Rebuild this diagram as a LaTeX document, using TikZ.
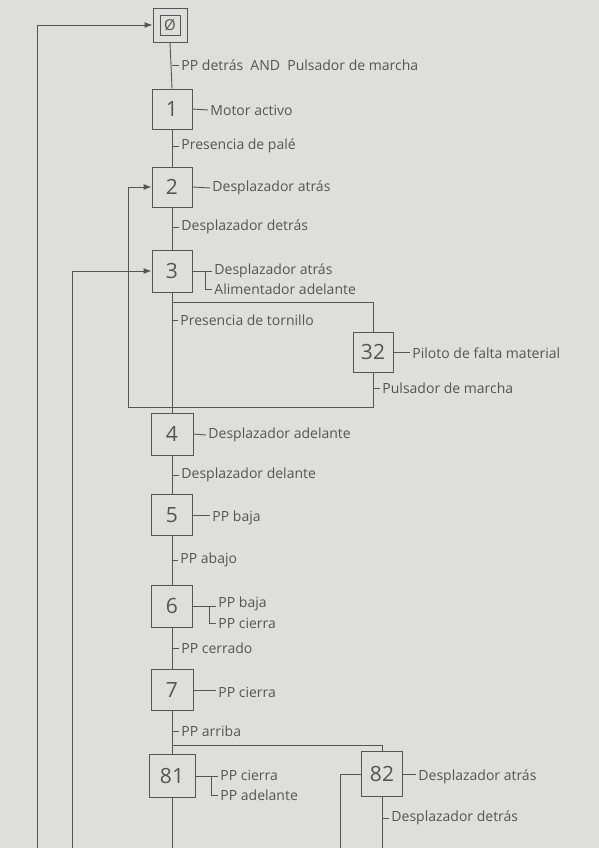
\documentclass[tikz,border=0pt]{standalone}
\usepackage{fontspec}
\setmainfont{Open Sans}
\usetikzlibrary{arrows.meta}
\definecolor{papel}{RGB}{222,222,220}
\definecolor{lapiz}{RGB}{85,85,85}
\tikzset{
  etapa/.style={draw=lapiz,minimum width=40,minimum height=40,inner sep=0pt,
    text=lapiz,font=\fontsize{21}{21}\selectfont},
  accion/.style={right,inner sep=2pt,text=lapiz,font=\fontsize{14}{14}\selectfont},
  receptiva/.style={right,inner sep=2pt,text=lapiz,font=\fontsize{14}{14}\selectfont},
  flecha/.style={-{Latex[length=8,width=6]}},
}

\begin{document}
\begin{tikzpicture}[x=1pt,y=-1pt,line width=0.9pt,draw=lapiz]
    % Paper
    \fill[papel] (0,0) rectangle (599,848);
    \useasboundingbox (0,0) rectangle (599,848);
    % Steps
    \node[etapa,minimum width=34,minimum height=34] (s0) at (170,25) {};
    \node[etapa,minimum width=20,minimum height=20,font=\fontsize{15}{15}\selectfont] (s0i) at (s0) {Ø};
    \node[etapa] (s1) at (172,109) {1};
    \node[etapa] (s2) at (172,187) {2};
    \node[etapa,minimum height=42] (s3) at (172,271) {3};
    \node[etapa] (s32) at (373,352) {32};
    \node[etapa,minimum width=42,minimum height=42] (s4) at (172,434) {4};
    \node[etapa,minimum width=41,minimum height=41] (s5) at (172,515) {5};
    \node[etapa,minimum width=41,minimum height=42] (s6) at (172,606) {6};
    \node[etapa,minimum width=42,minimum height=41] (s7) at (172,690) {7};
    \node[etapa,minimum width=46,minimum height=43] (s81) at (172,776) {81};
    \node[etapa,minimum width=41,minimum height=45] (s82) at (382,774) {82};
    % Actions
    \node[accion] (a1) at (208,110) {Motor activo};
    \node[accion] (a2) at (210,188) {Desplazador atrás};
    \node[accion] (a3a) at (212,271) {Desplazador atrás};
    \node[accion] (a3b) at (212,289) {Alimentador adelante};
    \node[accion] (a32) at (410,353) {Piloto de falta material};
    \node[accion] (a4) at (206,435) {Desplazador adelante};
    \node[accion] (a5) at (210,518) {PP baja};
    \node[accion] (a6a) at (216,604) {PP baja};
    \node[accion] (a6b) at (216,623) {PP cierra};
    \node[accion] (a7) at (216,692) {PP cierra};
    \node[accion] (a81a) at (218,775) {PP cierra};
    \node[accion] (a81b) at (218,795) {PP adelante};
    \node[accion] (a82) at (416,777) {Desplazador atrás};
    \draw (s1.east) -- (a1.west);
    \draw (s2.east) -- (a2.west);
    \draw (s3.east) -- (a3a.west);
    \coordinate (b3) at (205,271);
    \draw (b3) |- (a3b.west);
    \draw (s32.east) -- (s32.east -| a32.west);
    \draw (s4.east) -- (a4.west);
    \draw (s5.east) -- (s5.east -| a5.west);
    \draw (s6.east) -- (s6.east -| a6a.west);
    \coordinate (b6) at (209,606);
    \draw (b6) |- (a6b.west);
    \draw (s7.east) -- (s7.east -| a7.west);
    \draw (s81.east) -- (s81.east -| a81a.west);
    \coordinate (b81) at (211,776);
    \draw (b81) |- (a81b.west);
    \draw (s82.east) -- (s82.east -| a82.west);
    % Links
    \draw (s0.south) -- (s1.north);
    \draw (s1.south) -- (s2.north);
    \draw (s2.south) -- (s3.north);
    \draw (s3.south) -- (s4.north);
    \draw (s4.south) -- (s5.north);
    \draw (s5.south) -- (s6.north);
    \draw (s6.south) -- (s7.north);
    \draw (s7.south) -- (s81.north);
    \coordinate (d3) at (172,302);
    \draw (d3) -| (s32.north);
    \coordinate (r2) at (128,407);
    \draw[flecha] (s32.south) |- (r2) |- (s2.west);
    \coordinate (r3) at (72,848);
    \draw[flecha] (r3) |- (s3.west);
    \coordinate (r0) at (37,848);
    \draw[flecha] (r0) |- (s0.west);
    \coordinate (d7) at (172,745);
    \draw (d7) -| (s82.north);
    \coordinate (e82) at (340,848);
    \draw (s82.west) -| (e82);
    \coordinate (f82) at (382,848);
    \draw (s82.south) -- (f82);
    \coordinate (f81) at (172,848);
    \draw (s81.south) -- (f81);
    % Transitions
    \draw (172,65) -- ++(7,0) node[receptiva] (t01) {PP detrás \ AND \ Pulsador de marcha};
    \draw (172,146) -- ++(7,0) node[receptiva] (t12) {Presencia de palé};
    \draw (172,227) -- ++(7,0) node[receptiva] (t23) {Desplazador detrás};
    \draw (172,320) -- ++(6,0) node[receptiva] (t34) {Presencia de tornillo};
    \draw (373,388) -- ++(7,0) node[receptiva] (t32) {Pulsador de marcha};
    \draw (172,475) -- ++(7,0) node[receptiva] (t45) {Desplazador delante};
    \draw (172,560) -- ++(6,0) node[receptiva] (t56) {PP abajo};
    \draw (172,648) -- ++(7,0) node[receptiva] (t67) {PP cerrado};
    \draw (172,731) -- ++(7,0) node[receptiva] (t78) {PP arriba};
    \draw (382,818) -- ++(7,0) node[receptiva] (t82) {Desplazador detrás};
\end{tikzpicture}
\end{document}
